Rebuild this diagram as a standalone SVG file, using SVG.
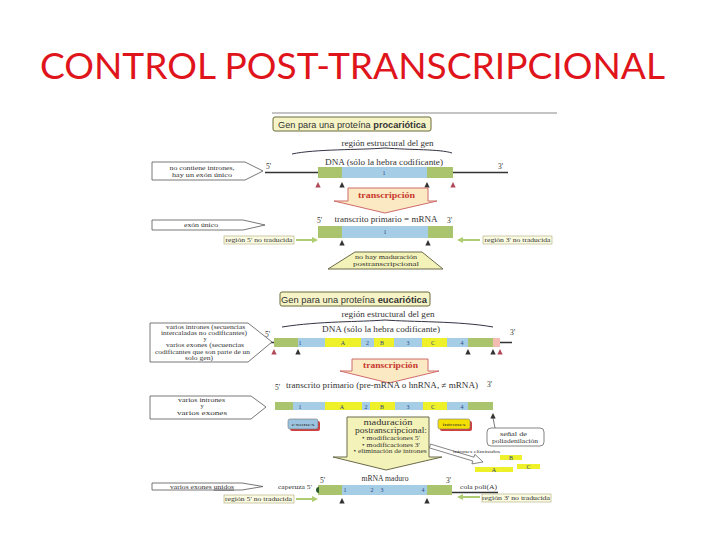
<svg xmlns="http://www.w3.org/2000/svg" width="720" height="540" viewBox="0 0 720 540">
<style>
.title{font-family:Lato,"Liberation Sans",Arial,sans-serif;font-size:36px;fill:#e0141b}
.sr{font-family:"Liberation Serif","Times New Roman",serif;fill:#333}
.ss{font-family:"Liberation Sans",Arial,sans-serif;fill:#333}
.gb{fill:#f6f4c6;stroke:#6b6b3a;stroke-width:1}
.gr{fill:#a9c46c}
.bl{fill:#a6cde6}
.ye{fill:#eef029}
.pk{fill:#f2bcb2}
.num{font-family:"Liberation Serif",serif;font-size:6px;fill:#2a4580;text-anchor:middle}
.pent{fill:#fff;stroke:#555;stroke-width:0.8}
.lbl{fill:#fbfbe2;stroke:#b8b48a;stroke-width:0.7}
.trans{fill:#fbe9c4;stroke:#d06a6a;stroke-width:1}
.ttxt{font-family:"Liberation Serif",serif;font-size:8px;font-weight:bold;fill:#c8382e;text-anchor:middle}
.mad{fill:#f3f2b8;stroke:#6a6a4a;stroke-width:1}
.brace{fill:none;stroke:#334;stroke-width:1}
.dna{stroke:#333;stroke-width:1.5}
.garr{stroke:#b0cc70;stroke-width:2;fill:none;marker-end:url(#gh)}
.m{text-anchor:middle}
</style>
<defs>
<marker id="gh" markerWidth="6" markerHeight="6" refX="4" refY="3" orient="auto" markerUnits="userSpaceOnUse"><path d="M0,0 L6,3 L0,6 Z" fill="#b0cc70"/></marker>
<path id="td" d="M0,0 L2.7,5.5 L-2.7,5.5 Z" fill="#333"/>
<path id="tp" d="M0,0 L2.7,5.5 L-2.7,5.5 Z" fill="#b04858"/>
</defs>
<rect width="720" height="540" fill="#fff"/>
<text class="title" x="40" y="79" textLength="625" lengthAdjust="spacingAndGlyphs">CONTROL POST-TRANSCRIPCIONAL</text>

<line x1="272" y1="113" x2="557" y2="113" stroke="#b0b0b0" stroke-width="1.5"/>

<g id="connectors">
<line class="garr" x1="296" y1="240" x2="316" y2="240"/>
<line class="garr" x1="480" y1="240" x2="459" y2="240"/>
<line class="garr" x1="296" y1="499" x2="316" y2="499"/>
<line class="garr" x1="480" y1="497" x2="459" y2="497"/>
<polygon points="430.6,444.1 474,457.2 474.9,454.3 483,462 471.9,463.9 472.8,461 429.4,447.9" fill="#fff" stroke="#666" stroke-width="0.8"/>
<path d="M493,418 L495,428" stroke="#555" stroke-width="0.8" fill="none"/>
</g>

<g id="prok-header">
<rect class="gb" x="273" y="117" width="158" height="14" rx="2"/>
<text class="ss m" x="352" y="127.5" font-size="9" textLength="148" lengthAdjust="spacingAndGlyphs">Gen para una proteína <tspan font-weight="bold">procariótica</tspan></text>
<text class="sr m" x="387.5" y="146" font-size="8.5" textLength="92" lengthAdjust="spacingAndGlyphs">región estructural del gen</text>
<path class="brace" d="M292,154 C315,149 360,150 385,148 C410,150 440,149 452,153"/>
<text class="sr m" x="384" y="164.5" font-size="9" textLength="118" lengthAdjust="spacingAndGlyphs">DNA (sólo la hebra codificante)</text>
</g>

<g id="prok-dna">
<line class="dna" x1="265" y1="172.5" x2="508" y2="172.5"/>
<text class="sr" x="266" y="169" font-size="7.5">5'</text>
<text class="sr" x="498" y="169" font-size="7.5">3'</text>
<rect class="gr" x="318" y="167" width="24" height="11"/>
<rect class="bl" x="342" y="167" width="85" height="11"/>
<rect class="gr" x="427" y="167" width="26" height="11"/>
<text class="num" x="384" y="175">1</text>
<use href="#tp" x="318" y="182"/>
<use href="#td" x="342" y="182"/>
<use href="#td" x="427" y="182"/>
<use href="#tp" x="453" y="182"/>
</g>

<g id="prok-note">
<polygon class="pent" points="152,162 245,162 263,171 245,180 152,180"/>
<text class="sr m" x="202" y="169.5" font-size="6.5" textLength="65" lengthAdjust="spacingAndGlyphs">no contiene intrones,</text>
<text class="sr m" x="202" y="176.5" font-size="6.5" textLength="60" lengthAdjust="spacingAndGlyphs">hay un exón único</text>
</g>

<g id="prok-transcripcion">
<path class="trans" d="M348,188 L428,188 L428,201 L437,201 L385,213 L334,201 L348,201 Z"/>
<text class="ttxt" x="386.5" y="197.5" textLength="57" lengthAdjust="spacingAndGlyphs">transcripción</text>
</g>

<g id="prok-mrna">
<text class="sr" x="317" y="223" font-size="7.5">5'</text>
<text class="sr m" x="386" y="221.5" font-size="8.5" textLength="103" lengthAdjust="spacingAndGlyphs">transcrito primario = mRNA</text>
<text class="sr" x="447" y="223" font-size="7.5">3'</text>
<rect class="gr" x="318" y="226" width="24" height="12"/>
<rect class="bl" x="342" y="226" width="86" height="12"/>
<rect class="gr" x="428" y="226" width="25" height="12"/>
<text class="num" x="385" y="234">1</text>
<use href="#td" x="342" y="240"/>
<use href="#td" x="428" y="240"/>
</g>

<g id="prok-exon-unico">
<polygon class="pent" points="152,220 243,220 265,225 243,230 152,230"/>
<text class="sr m" x="201" y="227.3" font-size="6.5" textLength="34" lengthAdjust="spacingAndGlyphs">exón único</text>
</g>
<g id="prok-utr5">
<rect class="lbl" x="224" y="236" width="70" height="8"/>
<text class="sr m" x="259" y="242.2" font-size="6.3" textLength="67" lengthAdjust="spacingAndGlyphs">región 5' no traducida</text>
</g>
<g id="prok-utr3">
<rect class="lbl" x="483" y="236" width="69" height="8"/>
<text class="sr m" x="517.5" y="242.2" font-size="6.3" textLength="66" lengthAdjust="spacingAndGlyphs">región 3' no traducida</text>
</g>
<g id="prok-no-maduracion">
<polygon class="mad" points="355,252 422,252 443,269 328,269"/>
<text class="sr m" x="386" y="258.5" font-size="7" textLength="62" lengthAdjust="spacingAndGlyphs">no hay maduración</text>
<text class="sr m" x="386" y="265.5" font-size="7" textLength="66" lengthAdjust="spacingAndGlyphs">postranscripcional</text>
</g>

<g id="euk-header">
<rect class="gb" x="280" y="292" width="150" height="14" rx="2"/>
<text class="ss m" x="354" y="302.5" font-size="9" textLength="146" lengthAdjust="spacingAndGlyphs">Gen para una proteína <tspan font-weight="bold">eucariótica</tspan></text>
<text class="sr m" x="388" y="317" font-size="8.5" textLength="93" lengthAdjust="spacingAndGlyphs">región estructural del gen</text>
<path class="brace" d="M282,327 C320,321 360,322 385,320 C410,322 460,321 493,327"/>
<text class="sr m" x="381" y="331.5" font-size="9" textLength="118" lengthAdjust="spacingAndGlyphs">DNA (sólo la hebra codificante)</text>
</g>

<g id="euk-dna">
<line class="dna" x1="267" y1="342.5" x2="512" y2="342.5"/>
<text class="sr" x="265" y="337" font-size="7.5">5'</text>
<text class="sr" x="510" y="335" font-size="7.5">3'</text>
<rect class="gr" x="274" y="338" width="24" height="9"/>
<rect class="bl" x="298" y="338" width="27" height="9"/>
<rect class="ye" x="325" y="338" width="36" height="9"/>
<rect class="bl" x="361" y="338" width="13" height="9"/>
<rect class="ye" x="374" y="338" width="20" height="9"/>
<rect class="bl" x="394" y="338" width="28" height="9"/>
<rect class="ye" x="422" y="338" width="25" height="9"/>
<rect class="bl" x="447" y="338" width="21" height="9"/>
<rect class="gr" x="468" y="338" width="25" height="9"/>
<rect class="pk" x="493" y="338" width="7" height="9"/>
<text class="num" x="300" y="345">1</text>
<text class="num" x="343" y="345">A</text>
<text class="num" x="367.5" y="345">2</text>
<text class="num" x="382" y="345">B</text>
<text class="num" x="408" y="345">3</text>
<text class="num" x="433" y="345">C</text>
<text class="num" x="462" y="345">4</text>
<use href="#tp" x="274" y="349"/>
<use href="#td" x="298" y="349"/>
<use href="#td" x="468" y="349"/>
<use href="#td" x="493" y="349"/>
<use href="#tp" x="500" y="349"/>
</g>

<g id="euk-note">
<polygon class="pent" points="150,323 248,323 272,342 248,362 150,362"/>
<text class="sr m" x="205.5" y="328.5" font-size="6" textLength="79" lengthAdjust="spacingAndGlyphs">varios intrones (secuencias</text>
<text class="sr m" x="204" y="334.8" font-size="6" textLength="86" lengthAdjust="spacingAndGlyphs">intercaladas no codificantes)</text>
<text class="sr m" x="205" y="341.1" font-size="6">y</text>
<text class="sr m" x="205" y="347.4" font-size="6" textLength="78" lengthAdjust="spacingAndGlyphs">varios exones (secuencias</text>
<text class="sr m" x="202.5" y="353.7" font-size="6" textLength="95" lengthAdjust="spacingAndGlyphs">codificantes que son parte de un</text>
<text class="sr m" x="199" y="360" font-size="6" textLength="28" lengthAdjust="spacingAndGlyphs">solo gen)</text>
</g>

<g id="euk-transcripcion">
<path class="trans" d="M352,359 L428,359 L428,371 L439,371 L389,383 L340,371 L352,371 Z"/>
<text class="ttxt" x="390.5" y="368" textLength="55" lengthAdjust="spacingAndGlyphs">transcripción</text>
</g>

<g id="euk-premrna">
<text class="sr" x="275" y="390" font-size="7.5">5'</text>
<text class="sr m" x="382" y="387.5" font-size="8.5" textLength="192" lengthAdjust="spacingAndGlyphs">transcrito primario (pre-mRNA o hnRNA, ≠ mRNA)</text>
<text class="sr" x="487" y="387" font-size="7.5">3'</text>
<rect class="gr" x="275" y="402" width="18" height="8"/>
<rect class="bl" x="293" y="402" width="32" height="8"/>
<rect class="ye" x="325" y="402" width="37" height="8"/>
<rect class="bl" x="362" y="402" width="8" height="8"/>
<rect class="ye" x="370" y="402" width="25" height="8"/>
<rect class="bl" x="395" y="402" width="28" height="8"/>
<rect class="ye" x="423" y="402" width="24" height="8"/>
<rect class="bl" x="447" y="402" width="21" height="8"/>
<rect class="gr" x="468" y="402" width="25" height="8"/>
<text class="num" x="300" y="408.5">1</text>
<text class="num" x="342" y="408.5">A</text>
<text class="num" x="366" y="408.5">2</text>
<text class="num" x="382" y="408.5">B</text>
<text class="num" x="408" y="408.5">3</text>
<text class="num" x="433" y="408.5">C</text>
<text class="num" x="462" y="408.5">4</text>
<use href="#td" x="493" y="413"/>
</g>

<g id="euk-note2">
<polygon class="pent" points="150,396 251,396 266,407 251,419 150,419"/>
<text class="sr m" x="201.5" y="401.8" font-size="6.2" textLength="47" lengthAdjust="spacingAndGlyphs">varios intrones</text>
<text class="sr m" x="202" y="408.3" font-size="6.2">y</text>
<text class="sr m" x="202" y="414.8" font-size="6.2" textLength="50" lengthAdjust="spacingAndGlyphs">varios exones</text>
</g>

<g id="exones-tag">
<rect x="290" y="421" width="30" height="10" rx="2" fill="#d04040"/>
<rect x="288" y="419" width="30" height="10" rx="2" fill="#9cc4e0" stroke="#777" stroke-width="0.6"/>
<text class="sr m" x="303" y="426" font-size="5" textLength="23" lengthAdjust="spacingAndGlyphs">exones</text>
</g>
<g id="intrones-tag">
<rect x="440" y="421" width="32" height="10" rx="2" fill="#d04040"/>
<rect x="438" y="419" width="32" height="10" rx="2" fill="#f4e000" stroke="#777" stroke-width="0.6"/>
<text class="sr m" x="454" y="426" font-size="5" textLength="23" lengthAdjust="spacingAndGlyphs">intrones</text>
</g>

<g id="maduracion">
<path class="mad" d="M347,417 L429,417 L429,457 L442,457 L386,470 L333,457 L347,457 Z"/>
<text class="sr m" x="388" y="425" font-size="8" textLength="49" lengthAdjust="spacingAndGlyphs">maduración</text>
<text class="sr m" x="391" y="432.5" font-size="8" textLength="72" lengthAdjust="spacingAndGlyphs">postranscripcional:</text>
<text class="sr m" x="391" y="440" font-size="7" textLength="58" lengthAdjust="spacingAndGlyphs">• modificaciones 5'</text>
<text class="sr m" x="391" y="446.5" font-size="7" textLength="58" lengthAdjust="spacingAndGlyphs">• modificaciones 3'</text>
<text class="sr m" x="390" y="453" font-size="7" textLength="73" lengthAdjust="spacingAndGlyphs">• eliminación de intrones</text>
</g>

<g id="intrones-eliminados">
<text class="sr m" x="476.5" y="453" font-size="4.5" textLength="47" lengthAdjust="spacingAndGlyphs">intrones eliminados</text>
<rect class="ye" x="500" y="455" width="22" height="5"/>
<text class="num" x="511" y="459.5" font-size="4.5">B</text>
<rect class="ye" x="475" y="467" width="38" height="5"/>
<text class="num" x="494" y="471.5" font-size="4.5">A</text>
<rect class="ye" x="517" y="464" width="23" height="5"/>
<text class="num" x="528.5" y="468.5" font-size="4.5">C</text>
</g>

<g id="senal-poliadenilacion">
<rect x="487" y="428" width="57" height="18" rx="4" fill="#fff" stroke="#666" stroke-width="0.8"/>
<text class="sr m" x="513.5" y="435.5" font-size="6.5" textLength="27" lengthAdjust="spacingAndGlyphs">señal de</text>
<text class="sr m" x="515" y="443" font-size="6.5" textLength="46" lengthAdjust="spacingAndGlyphs">poliadenilación</text>
</g>

<g id="mrna-maduro">
<text class="sr" x="320" y="483" font-size="7.5">5'</text>
<text class="sr m" x="385" y="481" font-size="8.5" textLength="47" lengthAdjust="spacingAndGlyphs">mRNA maduro</text>
<text class="sr" x="446" y="483" font-size="7.5">3'</text>
<line x1="452" y1="492.5" x2="498" y2="492.5" stroke="#333" stroke-width="1.5"/>
<rect class="gr" x="318" y="485" width="24" height="10"/>
<rect class="bl" x="342" y="485" width="85" height="10"/>
<rect class="gr" x="427" y="485" width="25" height="10"/>
<path d="M319,487 A3,3 0 0 0 319,493 Z" fill="#2d5a2d"/>
<text class="num" x="345" y="492">1</text>
<text class="num" x="372" y="492">2</text>
<text class="num" x="382" y="492">3</text>
<text class="num" x="423" y="492">4</text>
<use href="#td" x="342" y="498"/>
<use href="#td" x="427" y="498"/>
<text class="sr m" x="295" y="489" font-size="5.5" textLength="34" lengthAdjust="spacingAndGlyphs">caperuza 5'</text>
<text class="sr m" x="478.5" y="489" font-size="6" textLength="37" lengthAdjust="spacingAndGlyphs">cola poli(A)</text>
</g>

<g id="euk-exones-unidos">
<polygon class="pent" points="152,483 242,483 263,486.5 242,490 152,490"/>
<text class="sr m" x="202" y="488.8" font-size="5.8" textLength="64" lengthAdjust="spacingAndGlyphs">varios exones <tspan text-decoration="underline">unidos</tspan></text>
</g>
<g id="euk-utr5">
<rect class="lbl" x="224" y="495" width="70" height="8"/>
<text class="sr m" x="258.5" y="501.2" font-size="6.3" textLength="67" lengthAdjust="spacingAndGlyphs">región 5' no traducida</text>
</g>
<g id="euk-utr3">
<rect class="lbl" x="482" y="494" width="69" height="8"/>
<text class="sr m" x="516" y="500.2" font-size="6.3" textLength="68" lengthAdjust="spacingAndGlyphs">región 3' no traducida</text>
</g>
</svg>
